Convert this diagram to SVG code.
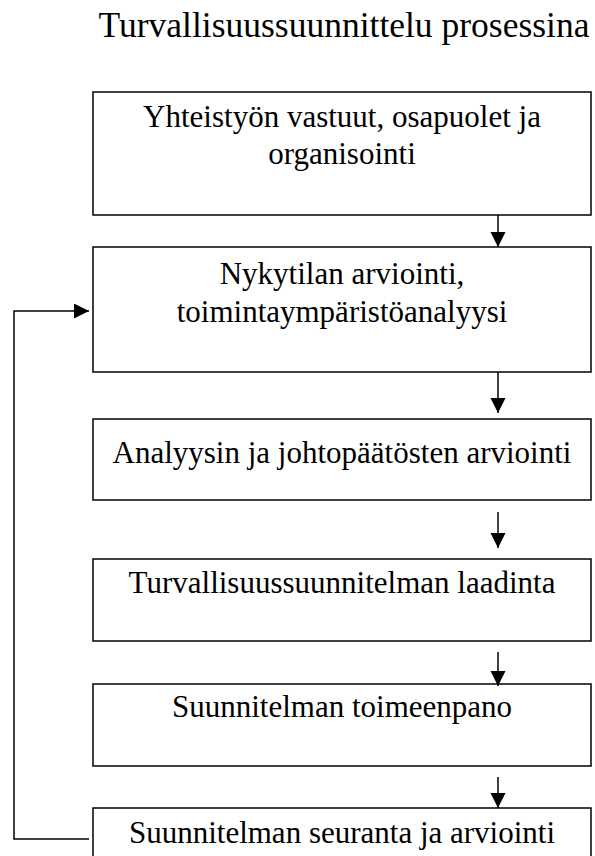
<svg xmlns="http://www.w3.org/2000/svg" width="595" height="856" viewBox="0 0 595 856" font-family="'Liberation Serif', 'Times New Roman', serif">
  <style>
    .box { fill: #ffffff; stroke: #000000; stroke-width: 1.5; }
    text { font-family: "Liberation Serif", "Times New Roman", serif; fill: #000000; text-anchor: middle; }
    .lbl { font-size: 31px; }
    .title { font-size: 35.5px; }
    .conn { fill: none; stroke: #000000; stroke-width: 1.5; }
  </style>
  <defs>
    <marker id="head" markerUnits="userSpaceOnUse" markerWidth="16" markerHeight="16" viewBox="0 0 16 16" refX="15" refY="7.5" orient="auto">
      <path d="M0,0 L15,7.5 L0,15 Z" fill="#000000"/>
    </marker>
  </defs>

  <rect width="595" height="856" fill="#ffffff"/>

  <text class="title" x="344" y="37" font-family="Liberation Serif, serif">Turvallisuussuunnittelu prosessina</text>

  <g id="n1">
    <rect class="box" x="93" y="92" width="498" height="123"/>
    <text class="lbl" x="342" y="127" font-family="Liberation Serif, serif">Yhteistyön vastuut, osapuolet ja</text>
    <text class="lbl" x="342" y="164" font-family="Liberation Serif, serif">organisointi</text>
  </g>

  <g id="n2">
    <rect class="box" x="93" y="247" width="498" height="125"/>
    <text class="lbl" x="342" y="284" font-family="Liberation Serif, serif">Nykytilan arviointi,</text>
    <text class="lbl" x="342" y="322" font-family="Liberation Serif, serif">toimintaympäristöanalyysi</text>
  </g>

  <g id="n3">
    <rect class="box" x="93" y="419" width="498" height="81"/>
    <text class="lbl" x="342" y="463" font-family="Liberation Serif, serif">Analyysin ja johtopäätösten arviointi</text>
  </g>

  <g id="n4">
    <rect class="box" x="93" y="559" width="498" height="82"/>
    <text class="lbl" x="342" y="593" font-family="Liberation Serif, serif">Turvallisuussuunnitelman laadinta</text>
  </g>

  <g id="n5">
    <rect class="box" x="93" y="684" width="498" height="82"/>
    <text class="lbl" x="342" y="717" font-family="Liberation Serif, serif">Suunnitelman toimeenpano</text>
  </g>

  <g id="n6">
    <rect class="box" x="93" y="808" width="498" height="60"/>
    <text class="lbl" x="342" y="843" font-family="Liberation Serif, serif">Suunnitelman seuranta ja arviointi</text>
  </g>

  <g id="connectors">
    <line class="conn" x1="498" y1="215" x2="498" y2="247" marker-end="url(#head)"/>
    <line class="conn" x1="498" y1="372" x2="498" y2="413" marker-end="url(#head)"/>
    <line class="conn" x1="498" y1="512" x2="498" y2="548" marker-end="url(#head)"/>
    <line class="conn" x1="498" y1="652" x2="498" y2="686" marker-end="url(#head)"/>
    <line class="conn" x1="498" y1="777" x2="498" y2="808" marker-end="url(#head)"/>
    <path class="conn" d="M89,839 H14 V311 H89" marker-end="url(#head)"/>
  </g>
</svg>
